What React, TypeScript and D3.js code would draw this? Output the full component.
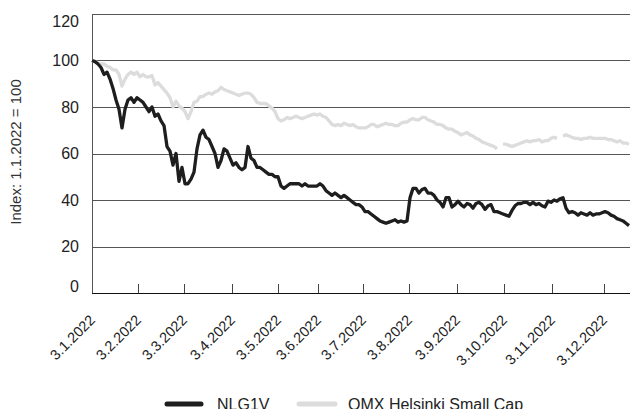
import { useEffect } from 'react';
import * as d3 from 'd3';

// sampled values, one per ~trading day pair, Jan..Dec 2022
const nlg1v: (number | null)[] = [
  100, 99.5, 98.5, 97, 94, 95, 92, 88, 83, 79,
  71, 79, 83, 84, 82, 84, 83, 82, 80, 78,
  80, 76, 77, 74, 72, 63, 61, 55, 60, 48,
  54, 47, 47, 49, 52, 62, 68, 70, 67, 66,
  63, 60, 54, 57, 62, 61, 58, 55, 56, 54,
  53, 54, 63, 58, 57, 54, 54, 53, 52, 51,
  51, 50, 50, 46, 45, 46, 47, 47, 47, 47,
  46, 47, 46, 46, 46, 46, 47, 46, 44, 43,
  42, 43, 42, 41, 42, 41, 40, 39, 38, 38,
  37, 35, 35, 34, 33, 32, 31, 30.5, 30, 30.5,
  31, 31.5, 30.5, 31, 30.5, 31, 41, 45, 45, 43,
  44.5, 45, 43, 43, 42, 40, 39, 37, 41, 41,
  37, 38, 39.5, 38, 37, 38.5, 38, 36.5, 38.5, 39,
  38, 36, 37.5, 38, 35, 35, 34.5, 34, 33.5, 33,
  35.5, 37.5, 38.5, 38.5, 39, 39, 38, 39, 38, 38.5,
  37.5, 37, 39.5, 39, 40, 39.5, 40.5, 41, 36.5, 34.5,
  35, 34.5, 33.5, 34.5, 34, 33.5, 34.5, 33.5, 34, 34,
  34.5, 35, 34.5, 33.5, 33, 32, 31.5, 31, 30, 29,
];

const omxSmallCap: (number | null)[] = [
  100, 99.5, 99, 98.5, 98.5, 97.5, 97, 96, 96, 94,
  89, 92, 94, 95, 94, 95, 93, 94, 93, 93,
  93.5, 89.5, 90.5, 89, 87.5, 86, 84, 80, 82.5, 80.5,
  79.5, 78, 75, 78, 82, 82.5, 84.5, 84.5, 85.5, 86,
  85.5, 86.5, 87, 88.5, 87.5, 87, 86.5, 86, 85.5, 85,
  85.5, 86, 86, 85.5, 84, 82, 81.5, 81.5, 81.5, 80.5,
  79.5, 78, 75, 74, 74.5, 75.5, 75, 75.5, 76, 75.5,
  75, 75.5, 76, 76.5, 77, 76.5, 77, 76, 75.5, 74,
  72.5, 72, 72.5, 72, 73, 72.5, 72, 72.5, 71.5, 71,
  71, 71, 71.5, 72.5, 72.5, 71.5, 72, 72.5, 73, 72.5,
  72.5, 72, 72, 73, 73.5, 73.5, 74.5, 75, 74.5, 74.5,
  75.5, 75.5, 74.5, 74, 73.5, 72.5, 72.5, 72, 71, 70.5,
  70.5, 69.5, 69, 68, 68.5, 69, 68, 67.5, 66.5, 66,
  65, 64.5, 64, 63.5, 63, 62, null, 64, 64, 63.5,
  63, 63.5, 64, 64.5, 65, 65.5, 65, 65.5, 65.5, 66,
  65, 65.5, 65.5, 66.5, 67, 66.5, null, 67.5, 68, 67.5,
  67, 66.5, 66.5, 66, 66.5, 66.5, 67, 66.5, 66.5, 66.5,
  66.5, 66.5, 66, 66, 65.5, 65, 65.5, 64.5, 64.5, 64,
];

const tickLabels = [
  '3.1.2022', '3.2.2022', '3.3.2022', '3.4.2022', '3.5.2022', '3.6.2022',
  '3.7.2022', '3.8.2022', '3.9.2022', '3.10.2022', '3.11.2022', '3.12.2022',
];
// position of each label date in sample units
const tickAt = [0, 15.33, 30.67, 46.67, 62, 75.33, 90.33, 105.67, 121.67, 137.33, 153.33, 170.67];

const yTicks = [0, 20, 40, 60, 80, 100, 120];

const W = 630, H = 409;
const M = { left: 92, right: 629, top: 14, bottom: 293 };
const FONT = 'Liberation Sans, Arial, sans-serif';

export default function App() {
  useEffect(() => { document.body.style.margin = '0'; }, []);

  const x = d3.scaleLinear().domain([0, nlg1v.length - 1]).range([M.left, M.right]);
  const y = d3.scaleLinear().domain([0, 120]).range([M.bottom, M.top]);

  const line = d3.line<number | null>()
    .defined(d => d != null)
    .x((_, i) => x(i))
    .y(d => y(d as number));

  return (
    <svg width={W} height={H} style={{ position: 'absolute', left: 0, top: 0, fontFamily: FONT }}>
      {/* grid */}
      {yTicks.filter(v => v > 0).map(v => (
        <line key={v} x1={M.left} x2={W} y1={Math.round(y(v)) + 0.5} y2={Math.round(y(v)) + 0.5}
          stroke="#555" strokeWidth={1} />
      ))}
      <line x1={M.left + 0.5} x2={M.left + 0.5} y1={y(120)} y2={y(0)} stroke="#555" />

      {/* y labels, end ones pulled inside like the source */}
      {yTicks.map(v => {
        const yy = Math.min(Math.max(y(v), M.top + 7), M.bottom - 6.5);
        return (
          <text key={v} x={79} y={yy} dy="0.36em" textAnchor="end" fontSize={16} fill="#222">{v}</text>
        );
      })}

      <text transform={`translate(16,152) rotate(-90)`} textAnchor="middle" dy="0.35em" fontSize={15} fill="#333">
        Index: 1.1.2022 = 100
      </text>

      {/* series */}
      <path d={line(omxSmallCap) ?? ''} fill="none" stroke="#dcdcdc" strokeWidth={3.3} strokeLinejoin="round" />
      <path d={line(nlg1v) ?? ''} fill="none" stroke="#1e1e1e" strokeWidth={3.3} strokeLinejoin="round" />

      {/* x axis */}
      <line x1={M.left} x2={W} y1={M.bottom + 0.5} y2={M.bottom + 0.5} stroke="#111" strokeWidth={1.2} />
      {tickAt.map((t, i) => (
        <g key={tickLabels[i]}>
          {i > 0 && <line x1={Math.round(x(t)) + 0.5} x2={Math.round(x(t)) + 0.5} y1={M.bottom - 9} y2={M.bottom}
            stroke="#444" />}
          <text transform={`translate(${x(t) + 4},321) rotate(-45)`} textAnchor="end" fontSize={14.5} fill="#222">
            {tickLabels[i]}
          </text>
        </g>
      ))}

      {/* legend (bottom edge clips it, as in the source) */}
      <line x1={167} x2={201} y1={404} y2={404} stroke="#1e1e1e" strokeWidth={5} strokeLinecap="round" />
      <text x={217} y={410} fontSize={16} fill="#222">NLG1V</text>
      <line x1={299} x2={335} y1={404} y2={404} stroke="#dcdcdc" strokeWidth={5} strokeLinecap="round" />
      <text x={348} y={410} fontSize={16} fill="#222">OMX Helsinki Small Cap</text>
    </svg>
  );
}
